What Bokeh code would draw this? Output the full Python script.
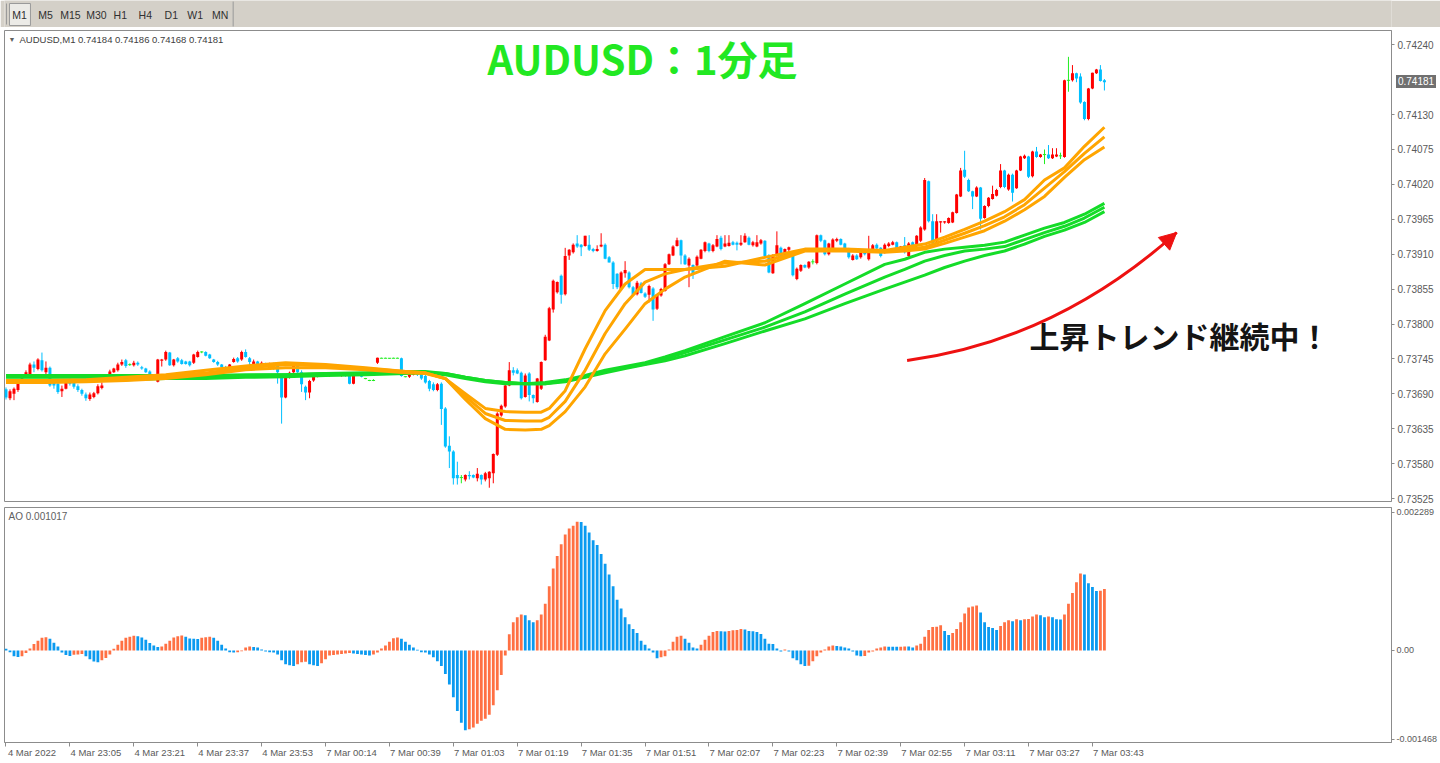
from bokeh.plotting import figure
from bokeh.layouts import column
from bokeh.models import (Range1d, LinearAxis, FixedTicker, Label, Arrow, NormalHead,
                          ColumnDataSource, PrintfTickFormatter, Div)
from bokeh.core.properties import value
from bokeh.embed import file_html
from bokeh.resources import INLINE

# ---------------------------------------------------------------- data
symbol_header = "AUDUSD,M1  0.74184 0.74186 0.74168 0.74181"
ao_header = "AO 0.001017"
title_text = "AUDUSD：1分足"
note_text = "上昇トレンド継続中！"
last_price_text = "0.74181"
last_price = 0.74181
timeframes = ["M1", "M5", "M15", "M30", "H1", "H4", "D1", "W1", "MN"]

open_ = [
    0.73697, 0.73683, 0.73690, 0.73696, 0.73710, 0.73720, 0.73720, 0.73736, 0.73729, 0.73743,
    0.73724, 0.73731, 0.73707, 0.73706, 0.73694, 0.73698, 0.73711, 0.73709, 0.73702, 0.73696,
    0.73689, 0.73682, 0.73685, 0.73691, 0.73699, 0.73711, 0.73715, 0.73724, 0.73727, 0.73736,
    0.73743, 0.73736, 0.73735, 0.73739, 0.73732, 0.73730, 0.73725, 0.73719, 0.73709, 0.73742,
    0.73744, 0.73755, 0.73735, 0.73746, 0.73743, 0.73741, 0.73741, 0.73739, 0.73748, 0.73756,
    0.73756, 0.73752, 0.73744, 0.73740, 0.73736, 0.73732, 0.73724, 0.73740, 0.73746, 0.73744,
    0.73756, 0.73746, 0.73737, 0.73741, 0.73736, 0.73737, 0.73729, 0.73737, 0.73737, 0.73715,
    0.73684, 0.73716, 0.73724, 0.73736, 0.73724, 0.73701, 0.73692, 0.73711, 0.73717, 0.73720,
    0.73719, 0.73719, 0.73721, 0.73720, 0.73719, 0.73722, 0.73719, 0.73706, 0.73720, 0.73720,
    0.73714, 0.73711, 0.73711, 0.73739, 0.73746, 0.73746, 0.73746, 0.73746, 0.73746, 0.73746,
    0.73717, 0.73717, 0.73720, 0.73725, 0.73723, 0.73718, 0.73710, 0.73705, 0.73696, 0.73706,
    0.73667, 0.73608, 0.73599, 0.73562, 0.73558, 0.73555, 0.73562, 0.73562, 0.73557, 0.73562,
    0.73555, 0.73557, 0.73565, 0.73594, 0.73656, 0.73670, 0.73703, 0.73727, 0.73727, 0.73723,
    0.73685, 0.73722, 0.73688, 0.73677, 0.73698, 0.73743, 0.73774, 0.73823, 0.73850, 0.73876,
    0.73847, 0.73908, 0.73913, 0.73927, 0.73925, 0.73923, 0.73925, 0.73918, 0.73915, 0.73922,
    0.73925, 0.73905, 0.73897, 0.73879, 0.73855, 0.73880, 0.73881, 0.73858, 0.73847, 0.73864,
    0.73848, 0.73846, 0.73856, 0.73824, 0.73845, 0.73852, 0.73894, 0.73908, 0.73923, 0.73932,
    0.73908, 0.73892, 0.73893, 0.73892, 0.73903, 0.73915, 0.73927, 0.73915, 0.73922, 0.73936,
    0.73922, 0.73923, 0.73929, 0.73928, 0.73925, 0.73929, 0.73936, 0.73924, 0.73922, 0.73927,
    0.73931, 0.73908, 0.73880, 0.73907, 0.73920, 0.73908, 0.73917, 0.73907, 0.73871, 0.73884,
    0.73893, 0.73889, 0.73898, 0.73896, 0.73940, 0.73932, 0.73910, 0.73918, 0.73931, 0.73934,
    0.73927, 0.73919, 0.73901, 0.73908, 0.73905, 0.73917, 0.73902, 0.73915, 0.73925, 0.73920,
    0.73913, 0.73923, 0.73925, 0.73929, 0.73918, 0.73924, 0.73907, 0.73929, 0.73923, 0.73931,
    0.73949, 0.74025, 0.73962, 0.73931, 0.73960, 0.73960, 0.73959, 0.73960, 0.73975, 0.74001,
    0.74043, 0.74027, 0.74009, 0.74001, 0.74015, 0.73967, 0.73986, 0.73997, 0.74002, 0.74016,
    0.74042, 0.74012, 0.74035, 0.74014, 0.74042, 0.74061, 0.74064, 0.74033, 0.74072, 0.74063,
    0.74067, 0.74067, 0.74061, 0.74064, 0.74065, 0.74063, 0.74184, 0.74184, 0.74195, 0.74190,
    0.74150, 0.74123, 0.74171, 0.74195, 0.74201, 0.74184,
]

high = [
    0.73700, 0.73697, 0.73700, 0.73711, 0.73717, 0.73727, 0.73739, 0.73741, 0.73746, 0.73755,
    0.73741, 0.73733, 0.73709, 0.73708, 0.73703, 0.73712, 0.73714, 0.73711, 0.73705, 0.73698,
    0.73692, 0.73692, 0.73693, 0.73705, 0.73708, 0.73717, 0.73728, 0.73731, 0.73739, 0.73744,
    0.73745, 0.73738, 0.73742, 0.73741, 0.73734, 0.73731, 0.73727, 0.73720, 0.73745, 0.73745,
    0.73758, 0.73756, 0.73745, 0.73748, 0.73745, 0.73742, 0.73742, 0.73753, 0.73758, 0.73757,
    0.73757, 0.73753, 0.73745, 0.73742, 0.73737, 0.73734, 0.73737, 0.73747, 0.73748, 0.73758,
    0.73760, 0.73748, 0.73744, 0.73742, 0.73741, 0.73739, 0.73739, 0.73739, 0.73739, 0.73717,
    0.73717, 0.73725, 0.73737, 0.73737, 0.73727, 0.73703, 0.73712, 0.73719, 0.73722, 0.73722,
    0.73720, 0.73722, 0.73722, 0.73721, 0.73723, 0.73723, 0.73720, 0.73723, 0.73721, 0.73722,
    0.73715, 0.73712, 0.73713, 0.73747, 0.73747, 0.73747, 0.73746, 0.73747, 0.73747, 0.73747,
    0.73718, 0.73722, 0.73724, 0.73726, 0.73725, 0.73720, 0.73712, 0.73708, 0.73707, 0.73708,
    0.73669, 0.73623, 0.73601, 0.73583, 0.73562, 0.73563, 0.73568, 0.73563, 0.73573, 0.73563,
    0.73567, 0.73568, 0.73596, 0.73661, 0.73673, 0.73704, 0.73740, 0.73732, 0.73730, 0.73725,
    0.73722, 0.73724, 0.73689, 0.73715, 0.73741, 0.73783, 0.73827, 0.73870, 0.73867, 0.73878,
    0.73920, 0.73918, 0.73927, 0.73940, 0.73926, 0.73939, 0.73940, 0.73920, 0.73924, 0.73943,
    0.73927, 0.73907, 0.73899, 0.73880, 0.73883, 0.73899, 0.73883, 0.73860, 0.73868, 0.73866,
    0.73850, 0.73862, 0.73858, 0.73847, 0.73857, 0.73896, 0.73911, 0.73924, 0.73936, 0.73933,
    0.73910, 0.73905, 0.73894, 0.73908, 0.73918, 0.73930, 0.73928, 0.73926, 0.73940, 0.73939,
    0.73940, 0.73940, 0.73931, 0.73930, 0.73940, 0.73943, 0.73938, 0.73931, 0.73940, 0.73934,
    0.73932, 0.73910, 0.73910, 0.73946, 0.73922, 0.73919, 0.73922, 0.73909, 0.73889, 0.73894,
    0.73894, 0.73899, 0.73902, 0.73941, 0.73941, 0.73933, 0.73928, 0.73935, 0.73936, 0.73935,
    0.73928, 0.73920, 0.73910, 0.73910, 0.73915, 0.73918, 0.73939, 0.73926, 0.73927, 0.73921,
    0.73927, 0.73929, 0.73931, 0.73930, 0.73923, 0.73937, 0.73929, 0.73930, 0.73940, 0.73954,
    0.74030, 0.74026, 0.73973, 0.73973, 0.73962, 0.73962, 0.73968, 0.73977, 0.74005, 0.74046,
    0.74073, 0.74029, 0.74010, 0.74017, 0.74016, 0.73987, 0.74000, 0.74018, 0.74013, 0.74052,
    0.74043, 0.74037, 0.74037, 0.74043, 0.74065, 0.74067, 0.74065, 0.74073, 0.74079, 0.74068,
    0.74075, 0.74082, 0.74077, 0.74077, 0.74070, 0.74185, 0.74221, 0.74208, 0.74196, 0.74195,
    0.74151, 0.74172, 0.74196, 0.74202, 0.74208, 0.74186,
]

low = [
    0.73681, 0.73680, 0.73680, 0.73693, 0.73708, 0.73719, 0.73719, 0.73724, 0.73727, 0.73725,
    0.73718, 0.73701, 0.73698, 0.73690, 0.73685, 0.73697, 0.73703, 0.73698, 0.73693, 0.73687,
    0.73679, 0.73679, 0.73683, 0.73689, 0.73697, 0.73709, 0.73714, 0.73723, 0.73725, 0.73734,
    0.73731, 0.73734, 0.73733, 0.73734, 0.73728, 0.73723, 0.73717, 0.73714, 0.73708, 0.73733,
    0.73742, 0.73734, 0.73733, 0.73739, 0.73736, 0.73736, 0.73733, 0.73737, 0.73747, 0.73754,
    0.73749, 0.73745, 0.73739, 0.73734, 0.73731, 0.73723, 0.73723, 0.73739, 0.73739, 0.73742,
    0.73747, 0.73727, 0.73736, 0.73734, 0.73734, 0.73733, 0.73728, 0.73728, 0.73706, 0.73643,
    0.73683, 0.73714, 0.73723, 0.73723, 0.73693, 0.73680, 0.73683, 0.73709, 0.73716, 0.73717,
    0.73718, 0.73717, 0.73718, 0.73719, 0.73717, 0.73717, 0.73705, 0.73705, 0.73719, 0.73716,
    0.73713, 0.73710, 0.73710, 0.73737, 0.73746, 0.73746, 0.73745, 0.73746, 0.73746, 0.73717,
    0.73716, 0.73715, 0.73719, 0.73718, 0.73712, 0.73706, 0.73694, 0.73694, 0.73694, 0.73641,
    0.73605, 0.73573, 0.73547, 0.73547, 0.73549, 0.73552, 0.73555, 0.73557, 0.73552, 0.73547,
    0.73552, 0.73542, 0.73549, 0.73592, 0.73654, 0.73668, 0.73702, 0.73719, 0.73721, 0.73681,
    0.73684, 0.73678, 0.73675, 0.73676, 0.73696, 0.73742, 0.73773, 0.73818, 0.73848, 0.73832,
    0.73845, 0.73901, 0.73911, 0.73920, 0.73907, 0.73922, 0.73915, 0.73913, 0.73914, 0.73921,
    0.73902, 0.73897, 0.73855, 0.73855, 0.73853, 0.73873, 0.73856, 0.73844, 0.73845, 0.73848,
    0.73841, 0.73834, 0.73805, 0.73822, 0.73843, 0.73851, 0.73893, 0.73907, 0.73922, 0.73894,
    0.73893, 0.73858, 0.73871, 0.73890, 0.73902, 0.73913, 0.73913, 0.73913, 0.73921, 0.73916,
    0.73921, 0.73922, 0.73924, 0.73916, 0.73923, 0.73928, 0.73924, 0.73922, 0.73921, 0.73925,
    0.73906, 0.73880, 0.73879, 0.73906, 0.73906, 0.73907, 0.73914, 0.73875, 0.73869, 0.73882,
    0.73888, 0.73887, 0.73894, 0.73894, 0.73929, 0.73908, 0.73908, 0.73916, 0.73929, 0.73924,
    0.73916, 0.73903, 0.73900, 0.73901, 0.73903, 0.73908, 0.73900, 0.73913, 0.73917, 0.73905,
    0.73911, 0.73921, 0.73924, 0.73916, 0.73916, 0.73911, 0.73906, 0.73920, 0.73921, 0.73929,
    0.73947, 0.73960, 0.73925, 0.73929, 0.73944, 0.73958, 0.73958, 0.73959, 0.73974, 0.74000,
    0.74030, 0.74008, 0.73981, 0.74000, 0.73949, 0.73966, 0.73984, 0.73996, 0.74001, 0.74014,
    0.74014, 0.74010, 0.73993, 0.74013, 0.74041, 0.74060, 0.74030, 0.74031, 0.74062, 0.74062,
    0.74052, 0.74060, 0.74060, 0.74063, 0.74060, 0.74062, 0.74166, 0.74182, 0.74181, 0.74147,
    0.74121, 0.74121, 0.74170, 0.74194, 0.74182, 0.74168,
]

close_ = [
    0.73684, 0.73694, 0.73698, 0.73709, 0.73714, 0.73724, 0.73736, 0.73731, 0.73744, 0.73727,
    0.73731, 0.73703, 0.73703, 0.73693, 0.73698, 0.73710, 0.73706, 0.73701, 0.73696, 0.73690,
    0.73683, 0.73689, 0.73691, 0.73702, 0.73703, 0.73715, 0.73725, 0.73730, 0.73736, 0.73740,
    0.73734, 0.73736, 0.73739, 0.73736, 0.73730, 0.73724, 0.73719, 0.73717, 0.73744, 0.73744,
    0.73756, 0.73735, 0.73744, 0.73741, 0.73737, 0.73737, 0.73735, 0.73752, 0.73756, 0.73756,
    0.73750, 0.73746, 0.73740, 0.73736, 0.73732, 0.73724, 0.73736, 0.73745, 0.73741, 0.73756,
    0.73748, 0.73740, 0.73741, 0.73736, 0.73739, 0.73734, 0.73737, 0.73730, 0.73724, 0.73684,
    0.73715, 0.73723, 0.73736, 0.73724, 0.73705, 0.73692, 0.73710, 0.73717, 0.73720, 0.73719,
    0.73719, 0.73721, 0.73719, 0.73720, 0.73722, 0.73719, 0.73706, 0.73722, 0.73720, 0.73717,
    0.73714, 0.73711, 0.73711, 0.73747, 0.73746, 0.73746, 0.73746, 0.73746, 0.73746, 0.73718,
    0.73717, 0.73720, 0.73723, 0.73720, 0.73714, 0.73708, 0.73698, 0.73696, 0.73705, 0.73666,
    0.73607, 0.73599, 0.73557, 0.73557, 0.73558, 0.73562, 0.73560, 0.73558, 0.73564, 0.73555,
    0.73565, 0.73567, 0.73595, 0.73659, 0.73671, 0.73703, 0.73727, 0.73723, 0.73722, 0.73683,
    0.73719, 0.73688, 0.73683, 0.73714, 0.73740, 0.73780, 0.73825, 0.73868, 0.73866, 0.73846,
    0.73907, 0.73917, 0.73925, 0.73922, 0.73921, 0.73939, 0.73917, 0.73915, 0.73918, 0.73925,
    0.73903, 0.73897, 0.73863, 0.73858, 0.73881, 0.73885, 0.73858, 0.73846, 0.73865, 0.73849,
    0.73843, 0.73860, 0.73823, 0.73846, 0.73855, 0.73894, 0.73910, 0.73922, 0.73932, 0.73908,
    0.73894, 0.73903, 0.73880, 0.73906, 0.73917, 0.73929, 0.73915, 0.73924, 0.73934, 0.73918,
    0.73927, 0.73928, 0.73925, 0.73925, 0.73928, 0.73939, 0.73925, 0.73929, 0.73929, 0.73932,
    0.73907, 0.73881, 0.73908, 0.73924, 0.73907, 0.73918, 0.73921, 0.73877, 0.73887, 0.73893,
    0.73889, 0.73898, 0.73898, 0.73940, 0.73931, 0.73910, 0.73927, 0.73933, 0.73934, 0.73925,
    0.73918, 0.73905, 0.73908, 0.73902, 0.73913, 0.73910, 0.73918, 0.73924, 0.73919, 0.73907,
    0.73925, 0.73927, 0.73929, 0.73918, 0.73922, 0.73913, 0.73927, 0.73922, 0.73939, 0.73952,
    0.74027, 0.73962, 0.73927, 0.73962, 0.73962, 0.73962, 0.73967, 0.73976, 0.74004, 0.74042,
    0.74032, 0.74009, 0.74001, 0.74015, 0.73966, 0.73986, 0.73999, 0.74005, 0.74011, 0.74042,
    0.74016, 0.74035, 0.74007, 0.74042, 0.74064, 0.74065, 0.74032, 0.74072, 0.74063, 0.74067,
    0.74067, 0.74061, 0.74067, 0.74067, 0.74065, 0.74184, 0.74184, 0.74195, 0.74187, 0.74149,
    0.74123, 0.74171, 0.74196, 0.74201, 0.74183, 0.74181,
]

# Awesome Oscillator values read bar by bar
ao = [
    0.000027, -0.000027, -0.000097, -0.000108, -0.000097, -0.000043, 0.000032, 0.000108, 0.000161, 0.000210,
    0.000220, 0.000194, 0.000129, 0.000065, -0.000032, -0.000075, -0.000091, -0.000070, -0.000065, -0.000059,
    -0.000097, -0.000145, -0.000183, -0.000194, -0.000161, -0.000124, -0.000065, 0.000027, 0.000097, 0.000161,
    0.000210, 0.000226, 0.000242, 0.000237, 0.000215, 0.000177, 0.000124, 0.000081, 0.000059, 0.000065,
    0.000113, 0.000161, 0.000215, 0.000237, 0.000247, 0.000226, 0.000199, 0.000194, 0.000188, 0.000210,
    0.000220, 0.000226, 0.000210, 0.000161, 0.000097, 0.000032, -0.000027, -0.000032, -0.000027, -0.000011,
    0.000048, 0.000065, 0.000059, 0.000048, 0.000016, -0.000016, -0.000027, -0.000032, -0.000065, -0.000161,
    -0.000226, -0.000242, -0.000258, -0.000226, -0.000194, -0.000188, -0.000226, -0.000242, -0.000258, -0.000210,
    -0.000145, -0.000081, -0.000075, -0.000065, -0.000059, -0.000048, -0.000043, -0.000048, -0.000059, -0.000065,
    -0.000075, -0.000081, -0.000065, -0.000032, 0.000032, 0.000081, 0.000145, 0.000204, 0.000215, 0.000194,
    0.000145, 0.000097, 0.000048, 0.000011, -0.000027, -0.000032, -0.000065, -0.000113, -0.000177, -0.000258,
    -0.000387, -0.000564, -0.000774, -0.001000, -0.001193, -0.001317, -0.001301, -0.001274, -0.001210, -0.001161,
    -0.001129, -0.001064, -0.000903, -0.000656, -0.000403, -0.000081, 0.000269, 0.000468, 0.000548, 0.000597,
    0.000581, 0.000500, 0.000468, 0.000500, 0.000597, 0.000774, 0.001064, 0.001355, 0.001564, 0.001758,
    0.001919, 0.002016, 0.002064, 0.002129, 0.002124, 0.002064, 0.001951, 0.001822, 0.001742, 0.001597,
    0.001435, 0.001258, 0.001064, 0.000839, 0.000694, 0.000548, 0.000435, 0.000355, 0.000290, 0.000161,
    0.000097, 0.000032, -0.000032, -0.000129, -0.000113, -0.000097, 0.000016, 0.000145, 0.000226, 0.000242,
    0.000194, 0.000129, 0.000048, 0.000032, 0.000097, 0.000177, 0.000242, 0.000306, 0.000323, 0.000317,
    0.000312, 0.000323, 0.000333, 0.000339, 0.000355, 0.000349, 0.000323, 0.000317, 0.000306, 0.000274,
    0.000194, 0.000113, 0.000108, 0.000032, -0.000016, 0.000016, -0.000016, -0.000129, -0.000161, -0.000226,
    -0.000258, -0.000253, -0.000177, -0.000097, -0.000032, 0.000016, 0.000065, 0.000081, 0.000075, 0.000065,
    0.000048, 0.000032, -0.000016, -0.000081, -0.000097, -0.000091, -0.000032, -0.000016, 0.000032, 0.000048,
    0.000065, 0.000063, 0.000062, 0.000061, 0.000063, 0.000066, 0.000065, 0.000048, 0.000081, 0.000113,
    0.000226, 0.000339, 0.000387, 0.000392, 0.000419, 0.000323, 0.000258, 0.000290, 0.000355, 0.000468,
    0.000613, 0.000710, 0.000726, 0.000742, 0.000629, 0.000468, 0.000387, 0.000371, 0.000339, 0.000403,
    0.000468, 0.000500, 0.000484, 0.000516, 0.000500, 0.000516, 0.000521, 0.000564, 0.000597, 0.000581,
    0.000548, 0.000564, 0.000548, 0.000516, 0.000511, 0.000597, 0.000774, 0.000952, 0.001129, 0.001274,
    0.001258, 0.001113, 0.001048, 0.000984, 0.000989, 0.001017,
]

# moving-average lines at these bar indices
ma_orange_idx = [0, 10, 20, 30, 40, 50, 60, 70, 80, 90, 100, 105, 110, 115, 120, 125, 130, 134, 136,
                 140, 145, 150, 155, 160, 165, 170, 180, 190, 200, 210, 220, 225, 230, 235, 240, 245,
                 250, 255, 260, 265, 270, 275]
ma_orange_1 = [0.73711, 0.73711, 0.73712, 0.73716, 0.73720, 0.73727, 0.73734, 0.73739, 0.73736, 0.73731,
               0.73725, 0.73723, 0.73714, 0.73690, 0.73667, 0.73662, 0.73661, 0.73661, 0.73667,
               0.73695, 0.73761, 0.73821, 0.73863, 0.73886, 0.73886, 0.73886, 0.73891, 0.73905, 0.73918,
               0.73918, 0.73916, 0.73921, 0.73926, 0.73937, 0.73949, 0.73962, 0.73977, 0.73996, 0.74027,
               0.74046, 0.74080, 0.74110]
ma_orange_2 = [0.73709, 0.73709, 0.73711, 0.73712, 0.73717, 0.73723, 0.73731, 0.73736, 0.73734, 0.73730,
               0.73725, 0.73723, 0.73714, 0.73686, 0.73659, 0.73648, 0.73647, 0.73647, 0.73653,
               0.73678, 0.73727, 0.73785, 0.73832, 0.73866, 0.73879, 0.73886, 0.73896, 0.73899, 0.73916,
               0.73916, 0.73915, 0.73918, 0.73921, 0.73932, 0.73943, 0.73955, 0.73969, 0.73988, 0.74014,
               0.74040, 0.74069, 0.74095]
ma_orange_3 = [0.73708, 0.73708, 0.73709, 0.73711, 0.73714, 0.73720, 0.73728, 0.73731, 0.73731, 0.73728,
               0.73723, 0.73722, 0.73714, 0.73681, 0.73651, 0.73634, 0.73633, 0.73634, 0.73640,
               0.73662, 0.73701, 0.73753, 0.73792, 0.73832, 0.73855, 0.73874, 0.73899, 0.73893, 0.73915,
               0.73915, 0.73913, 0.73915, 0.73918, 0.73927, 0.73937, 0.73947, 0.73962, 0.73980, 0.74001,
               0.74031, 0.74059, 0.74079]

ma_green_idx = [0, 10, 20, 30, 40, 50, 60, 70, 80, 90, 100, 105, 110, 115, 120, 125, 130, 135, 140,
                145, 150, 155, 160, 165, 170, 180, 190, 200, 210, 220, 225, 230, 235, 240, 245, 250,
                255, 260, 265, 270, 275]
ma_green_1 = [0.73719, 0.73719, 0.73719, 0.73719, 0.73719, 0.73719, 0.73720, 0.73720, 0.73722, 0.73723,
              0.73725, 0.73725, 0.73722, 0.73716, 0.73711, 0.73708, 0.73706, 0.73708, 0.73712,
              0.73719, 0.73727, 0.73733, 0.73739, 0.73748, 0.73758, 0.73780, 0.73802, 0.73832, 0.73863,
              0.73894, 0.73902, 0.73913, 0.73918, 0.73921, 0.73924, 0.73929, 0.73940, 0.73951, 0.73960,
              0.73973, 0.73990]
ma_green_2 = [0.73717, 0.73717, 0.73717, 0.73717, 0.73717, 0.73717, 0.73719, 0.73720, 0.73722, 0.73722,
              0.73723, 0.73723, 0.73722, 0.73716, 0.73711, 0.73708, 0.73706, 0.73706, 0.73711,
              0.73717, 0.73725, 0.73731, 0.73737, 0.73745, 0.73755, 0.73775, 0.73795, 0.73819, 0.73847,
              0.73874, 0.73886, 0.73899, 0.73908, 0.73915, 0.73918, 0.73922, 0.73933, 0.73944, 0.73954,
              0.73967, 0.73984]
ma_green_3 = [0.73712, 0.73712, 0.73712, 0.73712, 0.73714, 0.73714, 0.73716, 0.73717, 0.73719, 0.73720,
              0.73722, 0.73723, 0.73720, 0.73714, 0.73709, 0.73706, 0.73706, 0.73706, 0.73709,
              0.73716, 0.73723, 0.73730, 0.73736, 0.73742, 0.73750, 0.73769, 0.73789, 0.73808, 0.73832,
              0.73855, 0.73866, 0.73877, 0.73889, 0.73899, 0.73908, 0.73915, 0.73926, 0.73938, 0.73948,
              0.73960, 0.73977]

price_ticks = [0.74240, 0.74130, 0.74075, 0.74020, 0.73965, 0.73910, 0.73855,
               0.73800, 0.73745, 0.73690, 0.73635, 0.73580, 0.73525]
ao_ticks = [-0.001468, 0.0, 0.002289]
ao_tick_labels = ["-0.001468", "0.00", "0.002289"]
time_tick_index = [0, 16, 32, 48, 64, 80, 96, 112, 128, 144, 160, 176, 192, 208, 224, 240, 256, 272]
time_tick_labels = ["4 Mar 2022", "4 Mar 23:05", "4 Mar 23:21", "4 Mar 23:37", "4 Mar 23:53",
                    "7 Mar 00:14", "7 Mar 00:39", "7 Mar 01:03", "7 Mar 01:19", "7 Mar 01:35",
                    "7 Mar 01:51", "7 Mar 02:07", "7 Mar 02:23", "7 Mar 02:39", "7 Mar 02:55",
                    "7 Mar 03:11", "7 Mar 03:27", "7 Mar 03:43"]

# ---------------------------------------------------------------- style / layout
W = 1440
H_TB, H_MAIN, H_AO = 27, 477, 259
L_BORDER, R_BORDER = 4, 47
MAIN_TOP, MAIN_BOTTOM = 3, 3
PX_PER_BAR = 4.0
X0 = -0.375
X1 = X0 + (W - L_BORDER - R_BORDER) / PX_PER_BAR
LABEL_SHIFT = 6.5          # bars: time labels start at their tick mark
Y_MAIN = (0.735203, 0.742625)
Y_AO = (-0.0015207, 0.0023636)

BULL, BEAR, DOJI = "#ff0000", "#00bfff", "#22ee22"
MA_ORANGE, MA_GREEN = "#ffa500", "#14dc28"
AO_UP, AO_DOWN = "#ff7043", "#0a9af0"
AXIS_GRAY, TEXT_GRAY = "#8c8c8c", "#5a5a5a"
TB_GRAY = "#d4d0c8"
UI_FONT = "Liberation Sans"
JP_FONT = "Noto Sans CJK JP"

# toolbar strip (same side borders as the panes, so its x data units are page pixels)
TF_X = [19, 45, 70, 96, 120, 145, 171, 195, 220]
tb = figure(width=W, height=H_TB, x_range=Range1d(L_BORDER, W - R_BORDER), y_range=Range1d(0, H_TB),
            output_backend="svg", toolbar_location=None, tools="",
            x_axis_location=None, y_axis_location=None,
            min_border_left=L_BORDER, min_border_right=R_BORDER, min_border_top=0, min_border_bottom=0,
            background_fill_color=TB_GRAY, border_fill_color=TB_GRAY)
tb.outline_line_color = None
tb.grid.visible = False
tb.quad(left=[9], right=[30], bottom=[2], top=[24], fill_color="#ecebe7", line_color="#9a9a9a")
tb.segment(x0=[233, 6], y0=[1, 3], x1=[233, 6], y1=[26, 24],
           line_color="#9a9a9a", line_width=1)
tb.text(x=TF_X, y=[13] * len(TF_X), text=timeframes, text_font=value(UI_FONT),
        text_font_size=value("10.5px"), text_align="center", text_baseline="middle",
        text_color="#303030")

# main price pane
p = figure(width=W, height=H_MAIN, x_range=Range1d(X0, X1), y_range=Range1d(*Y_MAIN),
           output_backend="svg", toolbar_location=None, tools="",
           x_axis_location=None, y_axis_location="right",
           min_border_left=L_BORDER, min_border_right=R_BORDER,
           min_border_top=MAIN_TOP, min_border_bottom=MAIN_BOTTOM,
           background_fill_color="white", border_fill_color="white")
p.outline_line_color = AXIS_GRAY
p.grid.visible = False
ya = p.yaxis[0]
ya.ticker = FixedTicker(ticks=price_ticks)
ya.formatter = PrintfTickFormatter(format="%.5f")
ya.major_label_text_font = UI_FONT
ya.major_label_text_font_size = "10px"
ya.major_label_text_color = TEXT_GRAY
ya.axis_line_color = AXIS_GRAY
ya.major_tick_line_color = AXIS_GRAY
ya.major_tick_out = 3
ya.major_tick_in = 0
ya.minor_tick_line_color = None
ya.major_label_standoff = 3

idx = list(range(len(close_)))
kind = ["up" if c > o else ("down" if c < o else "doji") for o, c in zip(open_, close_)]
kcol = {"up": BULL, "down": BEAR, "doji": DOJI}
wick = ColumnDataSource(dict(x=idx, lo=low, hi=high, col=[kcol[k] for k in kind]))
p.segment(x0="x", y0="lo", x1="x", y1="hi", line_color="col", line_width=1, source=wick)

bi = [i for i in idx if kind[i] != "doji"]
body = ColumnDataSource(dict(
    x=bi,
    top=[max(open_[i], close_[i]) for i in bi],
    bot=[min(open_[i], close_[i]) for i in bi],
    col=[kcol[kind[i]] for i in bi]))
p.vbar(x="x", width=0.75, top="top", bottom="bot", fill_color="col", line_color=None, source=body)

di = [i for i in idx if kind[i] == "doji"]
p.segment(x0=[i - 0.4 for i in di], y0=[open_[i] for i in di],
          x1=[i + 0.4 for i in di], y1=[open_[i] for i in di], line_color=DOJI, line_width=1)

for ys in (ma_green_1, ma_green_2, ma_green_3):
    p.line(ma_green_idx, ys, line_color=MA_GREEN, line_width=3, line_join="round")
for ys in (ma_orange_1, ma_orange_2, ma_orange_3):
    p.line(ma_orange_idx, ys, line_color=MA_ORANGE, line_width=3, line_join="round")

# header / caption texts
HEADER_Y = 0.742484
p.add_layout(Label(x=4, y=HEADER_Y, x_units="screen", y_units="data", text="▼",
                   text_font_size="7px", text_color="#606060", text_baseline="middle"))
p.add_layout(Label(x=15, y=HEADER_Y, x_units="screen", y_units="data", text=symbol_header,
                   text_font=UI_FONT, text_font_size="9.5px", text_color="#404040",
                   text_baseline="middle"))
p.add_layout(Label(x=638, y=0.742184, x_units="screen", y_units="data", text=title_text,
                   text_font=JP_FONT, text_font_style="bold", text_font_size="40px",
                   text_color="#22e822", text_align="center", text_baseline="middle"))
p.add_layout(Label(x=1175, y=0.737820, x_units="screen", y_units="data", text=note_text,
                   text_font=JP_FONT, text_font_style="bold", text_font_size="30px",
                   text_color="#141414", text_align="center", text_baseline="middle"))

# curved red arrow (quadratic curve expressed as cubic)
ARROW_RED = "#ee1111"
A_P0 = (225.6, 0.737425)
A_C = (262.9, 0.737740)
A_P2 = (293.1, 0.739442)
cx0 = A_P0[0] + 2.0 / 3.0 * (A_C[0] - A_P0[0])
cy0 = A_P0[1] + 2.0 / 3.0 * (A_C[1] - A_P0[1])
cx1 = A_P2[0] + 2.0 / 3.0 * (A_C[0] - A_P2[0])
cy1 = A_P2[1] + 2.0 / 3.0 * (A_C[1] - A_P2[1])
p.bezier(x0=[A_P0[0]], y0=[A_P0[1]], x1=[A_P2[0]], y1=[A_P2[1]],
         cx0=[cx0], cy0=[cy0], cx1=[cx1], cy1=[cy1], line_color=ARROW_RED, line_width=3)
p.add_layout(Arrow(end=NormalHead(size=17, fill_color=ARROW_RED, line_color=ARROW_RED),
                   x_start=A_P2[0] - 0.06 * (A_P2[0] - A_C[0]), y_start=A_P2[1] - 0.06 * (A_P2[1] - A_C[1]),
                   x_end=A_P2[0], y_end=A_P2[1], line_color=ARROW_RED, line_width=3))

# AO pane
q = figure(width=W, height=H_AO, x_range=p.x_range, y_range=Range1d(*Y_AO),
           output_backend="svg", toolbar_location=None, tools="",
           x_axis_location=None, y_axis_location="right",
           min_border_left=L_BORDER, min_border_right=R_BORDER, min_border_top=3, min_border_bottom=21,
           background_fill_color="white", border_fill_color="white")
q.outline_line_color = AXIS_GRAY
q.grid.visible = False
qa = q.yaxis[0]
qa.ticker = FixedTicker(ticks=ao_ticks)
qa.major_label_overrides = dict(zip(ao_ticks, ao_tick_labels))
qa.major_label_text_font = UI_FONT
qa.major_label_text_font_size = "9px"
qa.major_label_text_color = TEXT_GRAY
qa.axis_line_color = AXIS_GRAY
qa.major_tick_line_color = AXIS_GRAY
qa.major_tick_out = 3
qa.major_tick_in = 0
qa.minor_tick_line_color = None
qa.major_label_standoff = 2

ao_col = [AO_DOWN] + [AO_UP if ao[i] > ao[i - 1] else AO_DOWN for i in range(1, len(ao))]
q.vbar(x=list(range(len(ao))), top=ao, bottom=0, width=0.7, fill_color=ao_col, line_color=None)
q.add_layout(Label(x=4, y=0.002215, x_units="screen", y_units="data", text=ao_header,
                   text_font=UI_FONT, text_font_size="10px", text_color="#606060",
                   text_baseline="middle"))

# time scale: labels on a shifted range so that each label starts at its tick mark;
# the tick marks themselves are drawn as the axis' minor ticks at the true bar positions
q.extra_x_ranges = {"lab": Range1d(X0 - LABEL_SHIFT, X1 - LABEL_SHIFT)}
lab_axis = LinearAxis(x_range_name="lab",
                      ticker=FixedTicker(ticks=time_tick_index,
                                         minor_ticks=[t - LABEL_SHIFT for t in time_tick_index]),
                      major_label_overrides=dict(zip(time_tick_index, time_tick_labels)),
                      major_tick_out=0, major_tick_in=0, major_tick_line_color=None,
                      minor_tick_out=4, minor_tick_in=0, minor_tick_line_color=AXIS_GRAY,
                      axis_line_color=AXIS_GRAY, major_label_standoff=0,
                      major_label_text_font=UI_FONT, major_label_text_font_size="9.5px",
                      major_label_text_color=TEXT_GRAY)
q.add_layout(lab_axis, "below")

# current-price tag on the price scale, placed from the price scale's own mapping
frame_top = H_TB + MAIN_TOP
frame_h = H_MAIN - MAIN_TOP - MAIN_BOTTOM
tag_y = frame_top + (Y_MAIN[1] - last_price) / (Y_MAIN[1] - Y_MAIN[0]) * frame_h
TAG_W, TAG_H = 40, 13
tag = Div(text=last_price_text, width=TAG_W, height=TAG_H,
          styles={"position": "absolute", "left": f"{W - R_BORDER + 3}px",
                  "top": f"{tag_y - TAG_H / 2:.1f}px", "background-color": "#707070",
                  "color": "white", "font-family": UI_FONT, "font-size": "10px",
                  "line-height": f"{TAG_H}px", "text-align": "center", "z-index": "10",
                  "overflow": "hidden", "margin": "0", "padding": "0"})

layout = column(tb, p, q, tag, spacing=0)
open("out.html", "w").write(file_html(layout, INLINE))
